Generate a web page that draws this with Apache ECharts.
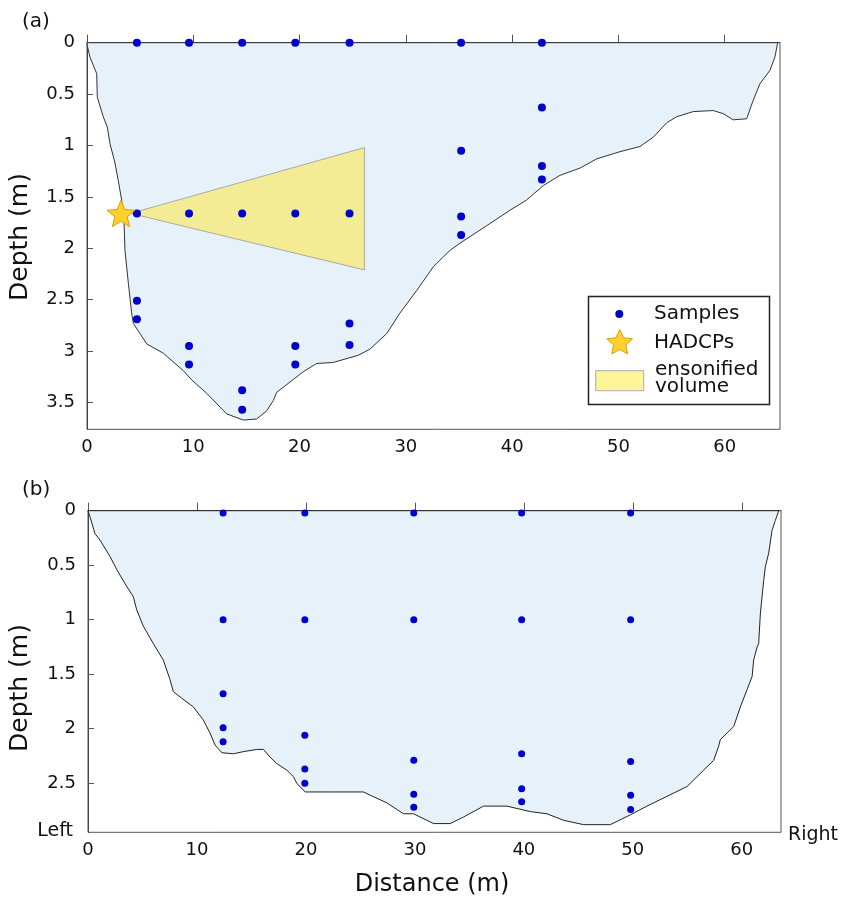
<!DOCTYPE html>
<html><head><meta charset="utf-8">
<script src="https://cdn.jsdelivr.net/npm/echarts@6/dist/echarts.min.js"></script>
<style>html,body{margin:0;padding:0;background:#fff}#c{width:843px;height:899px}</style>
</head><body><div id="c"></div>
<script>
const FONT = 'DejaVu Sans';

// ---------- Panel (a) ----------
const aBedX = [0,0.05,0.28,0.91,0.97,1.53,1.91,2.16,2.63,2.94,3.26,3.41,3.48,3.57,3.89,4.20,4.36,4.99,5.62,7.18,9.06,9.85,11.26,13.14,14.70,15.96,16.91,17.53,17.85,19.10,20.35,21.61,23.17,25.52,26.62,28.19,29.44,31.02,32.58,34.15,35.09,37.60,39.79,41.36,42.93,44.50,46.38,47.95,50.14,52.02,53.27,54.53,55.47,57.04,58.92,59.86,60.80,62.06,62.68,63.31,64.25,64.72,64.98];
const aBedDepth = [0,0.04,0.14,0.30,0.53,0.72,0.82,0.98,1.17,1.34,1.53,1.69,1.73,2.02,2.34,2.63,2.73,2.83,2.93,3.02,3.19,3.28,3.41,3.61,3.67,3.66,3.58,3.48,3.40,3.30,3.20,3.12,3.11,3.04,2.98,2.83,2.63,2.41,2.18,2.02,1.95,1.78,1.63,1.53,1.39,1.29,1.22,1.13,1.06,1.01,0.92,0.78,0.72,0.67,0.66,0.69,0.75,0.74,0.56,0.40,0.27,0.14,0];
const aSampleX =     [4.7, 9.6, 14.6, 19.6, 24.7, 35.2, 42.8, 42.8, 42.8, 42.8, 35.2, 35.2, 35.2, 4.7, 9.6, 14.6, 19.6, 24.7, 4.7, 4.7, 9.6, 9.6, 14.6, 14.6, 19.6, 19.6, 24.7, 24.7];
const aSampleDepth = [0,   0,   0,    0,    0,    0,    0,    0.63, 1.20, 1.33, 1.05, 1.69, 1.87, 1.66, 1.66, 1.66, 1.66, 1.66, 2.51, 2.69, 2.95, 3.13, 3.38, 3.57, 2.95, 3.13, 2.73, 2.94];
const aHadcpX = [3.2];
const aHadcpDepth = [1.66];
const aEnsX = [4.1, 26.1, 26.1];
const aEnsDepth = [1.66, 1.02, 2.21];
const aXTicks = [0,10,20,30,40,50,60];
const aYTicks = [0,0.5,1,1.5,2,2.5,3,3.5];

// ---------- Panel (b) ----------
const bBedX = [0,0.18,0.64,1.10,2.02,2.64,3.40,4.16,4.47,5.08,6.00,6.91,7.53,7.83,8.60,9.67,10.58,11.20,11.66,12.28,13.34,14.26,15.49,16.10,16.71,17.33,18.25,18.85,19.16,19.93,22.53,25.28,25.90,27.43,28.95,29.87,30.49,31.71,33.24,34.46,36.30,38.45,40.59,42.12,43.65,45.48,47.93,49.77,51.30,53.14,54.98,56.50,57.42,57.88,58.03,58.65,59.26,59.87,60.49,60.95,61.09,61.41,61.55,61.71,62.01,62.17,62.47,62.78,63.08,63.39];
const bBedDepth = [0,0.055,0.21,0.27,0.42,0.54,0.67,0.79,0.91,1.06,1.22,1.37,1.55,1.66,1.72,1.80,1.92,2.04,2.15,2.22,2.23,2.21,2.19,2.19,2.26,2.32,2.38,2.44,2.50,2.58,2.58,2.58,2.61,2.68,2.78,2.78,2.81,2.87,2.87,2.81,2.71,2.71,2.76,2.78,2.84,2.88,2.88,2.79,2.71,2.62,2.53,2.38,2.29,2.16,2.10,2.04,1.98,1.80,1.64,1.52,1.37,1.25,1.22,0.94,0.64,0.51,0.39,0.18,0.09,0];
const bSampleX =     [12.4, 19.9, 29.9, 39.8, 49.8, 12.4, 19.9, 29.9, 39.8, 49.8, 12.4, 12.4, 12.4, 19.9, 19.9, 19.9, 29.9, 29.9, 29.9, 39.8, 39.8, 39.8, 49.8, 49.8, 49.8];
const bSampleDepth = [0.02, 0.02, 0.02, 0.02, 0.02, 1.0,  1.0,  1.0,  1.0,  1.0,  1.68, 1.99, 2.12, 2.06, 2.37, 2.50, 2.29, 2.60, 2.72, 2.23, 2.55, 2.67, 2.30, 2.61, 2.74];
const bXTicks = [0,10,20,30,40,50,60];
const bYTicks = [0,0.5,1,1.5,2,2.5];

const legendLabels = ['Samples', 'HADCPs', 'ensonified\nvolume'];

const STAR = 'path://M50 0 L62.93 32.2 L97.55 34.55 L70.92 56.8 L79.39 90.45 L50 72 L20.61 90.45 L29.08 56.8 L2.45 34.55 L37.07 32.2 Z';
const SAMPLE_COLOR = '#0000cd';
const WATER = '#e6f1fa';
const ENS = '#f3ec95';

function zip(xs, ys) { return xs.map((x, i) => [x, ys[i]]); }

function starPoints(cx, cy, R, r) {
  const pts = [];
  for (let k = 0; k < 10; k++) {
    const ang = -Math.PI / 2 + k * Math.PI / 5;
    const rad = k % 2 === 0 ? R : r;
    pts.push([cx + rad * Math.cos(ang), cy + rad * Math.sin(ang)]);
  }
  return pts;
}

function polygonSeries(xs, ds, idx, style, z) {
  return {
    type: 'custom', xAxisIndex: idx, yAxisIndex: idx, z: z, silent: true,
    data: [[xs[0], ds[0]]],
    renderItem: function (params, api) {
      const pts = xs.map((x, i) => api.coord([x, ds[i]]));
      return { type: 'polygon', shape: { points: pts }, style: style };
    }
  };
}

function xAxisCfg(idx, max, ticks) {
  return {
    type: 'value', gridIndex: idx, min: 0, max: max,
    axisLine: { show: true, lineStyle: { color: '#444', width: 1 } },
    axisTick: { show: true, inside: true, length: 8, customValues: ticks, lineStyle: { color: '#555' } },
    axisLabel: { customValues: ticks, color: '#111', fontFamily: FONT, fontSize: 18, margin: 9 },
    splitLine: { show: false }
  };
}
function yAxisCfg(idx, max, ticks) {
  return {
    type: 'value', gridIndex: idx, min: 0, max: max, inverse: true,
    axisLine: { show: true, lineStyle: { color: '#444', width: 1 } },
    axisTick: { show: true, inside: true, length: 6, customValues: ticks, lineStyle: { color: '#555' } },
    axisLabel: { customValues: ticks, color: '#111', fontFamily: FONT, fontSize: 18, margin: 12 },
    splitLine: { show: false }
  };
}

const chart = echarts.init(document.getElementById('c'), null, { renderer: 'canvas' });

const txt = (x, y, text, extra) => ({
  type: 'text', x: x, y: y, silent: true,
  style: Object.assign({ text: text, fill: '#111', fontFamily: FONT, fontSize: 20, verticalAlign: 'middle' }, extra || {})
});

chart.setOption({
  animation: false,
  backgroundColor: '#fff',
  grid: [
    { left: 87, top: 42.7, width: 693, height: 386.6, show: true, borderColor: '#555', borderWidth: 1, backgroundColor: 'transparent' },
    { left: 88, top: 510.7, width: 693, height: 321.6, show: true, borderColor: '#555', borderWidth: 1, backgroundColor: 'transparent' }
  ],
  xAxis: [xAxisCfg(0, 65.2, aXTicks), xAxisCfg(1, 63.6, bXTicks)],
  yAxis: [yAxisCfg(0, 3.76, aYTicks), yAxisCfg(1, 2.95, bYTicks)],
  series: [
    polygonSeries(aBedX, aBedDepth, 0, { fill: WATER, stroke: '#333', lineWidth: 1 }, 1),
    polygonSeries(aEnsX, aEnsDepth, 0, { fill: ENS, stroke: '#aaa', lineWidth: 1 }, 2),
    { type: 'scatter', name: legendLabels[0], xAxisIndex: 0, yAxisIndex: 0, z: 3, symbol: 'circle', symbolSize: 8,
      itemStyle: { color: SAMPLE_COLOR, opacity: 1 }, data: zip(aSampleX, aSampleDepth) },
    { type: 'scatter', name: legendLabels[1], xAxisIndex: 0, yAxisIndex: 0, z: 4, symbol: STAR, symbolKeepAspect: true, symbolSize: 28,
      itemStyle: { color: '#fdcf2f', borderColor: '#d9a300', borderWidth: 1, opacity: 1 }, data: zip(aHadcpX, aHadcpDepth) },

    polygonSeries(bBedX, bBedDepth, 1, { fill: WATER, stroke: '#222', lineWidth: 1 }, 1),
    { type: 'scatter', xAxisIndex: 1, yAxisIndex: 1, z: 3, symbol: 'circle', symbolSize: 7,
      itemStyle: { color: SAMPLE_COLOR, opacity: 1 }, data: zip(bSampleX, bSampleDepth) }
  ],
  graphic: { elements: [
    txt(22, 22, '(a)', { fontSize: 20 }),
    txt(22, 490, '(b)', { fontSize: 20 }),
    { type: 'text', x: 20, y: 237, rotation: Math.PI / 2, silent: true,
      style: { text: 'Depth (m)', fill: '#111', fontFamily: FONT, fontSize: 25, align: 'center', verticalAlign: 'middle' } },
    { type: 'text', x: 20, y: 688, rotation: Math.PI / 2, silent: true,
      style: { text: 'Depth (m)', fill: '#111', fontFamily: FONT, fontSize: 25, align: 'center', verticalAlign: 'middle' } },
    txt(432, 885, 'Distance (m)', { fontSize: 24, align: 'center' }),
    txt(73, 831, 'Left', { fontSize: 19, align: 'right' }),
    txt(788, 835, 'Right', { fontSize: 19, align: 'left' }),
    // legend
    { type: 'rect', silent: true, z: 10, shape: { x: 588.5, y: 296.5, width: 181, height: 108 },
      style: { fill: '#fff', stroke: '#222', lineWidth: 1.5 } },
    { type: 'circle', silent: true, z: 11, shape: { cx: 619.3, cy: 314, r: 4 }, style: { fill: SAMPLE_COLOR } },
    Object.assign(txt(654, 314, legendLabels[0]), { z: 11 }),
    { type: 'polygon', silent: true, z: 11, shape: { points: starPoints(619.7, 343, 13.5, 6.5) },
      style: { fill: '#fdcf2f', stroke: '#d9a300', lineWidth: 1 } },
    Object.assign(txt(654, 343, legendLabels[1]), { z: 11 }),
    { type: 'rect', silent: true, z: 11, shape: { x: 595.7, y: 370.7, width: 48, height: 20 },
      style: { fill: '#fdf59a', stroke: '#aaa', lineWidth: 1 } },
    Object.assign(txt(655, 378, legendLabels[2], { lineHeight: 17 }), { z: 11 })
  ] }
});
</script></body></html>
